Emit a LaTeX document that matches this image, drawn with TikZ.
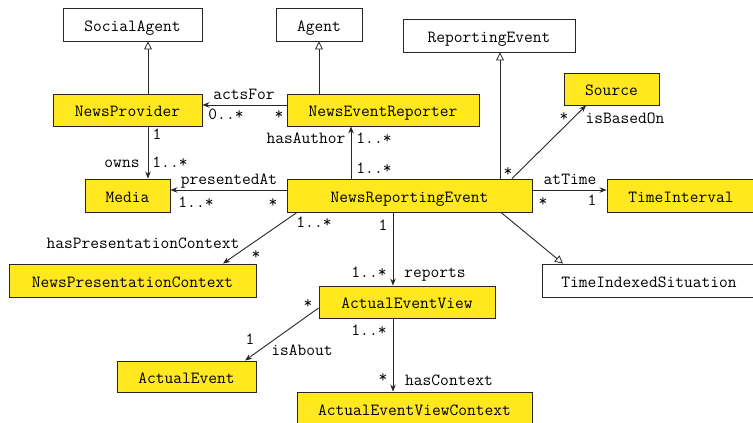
\documentclass[tikz,border=0pt]{standalone}
\usepackage{fontspec}
\usetikzlibrary{arrows.meta}
\definecolor{umlyellow}{RGB}{255,233,30}
\newcommand{\umlfont}{\ttfamily\fontsize{17}{20}\selectfont}
\begin{document}
\begin{tikzpicture}[x=1pt,y=-1pt,
  box/.style={draw=black!85,line width=0.9pt,inner sep=0pt,minimum height=33pt,text height=14pt,text depth=1pt,font=\umlfont},
  cls/.style={box,fill=umlyellow},
  ext/.style={box,fill=white},
  lbl/.style={font=\umlfont,anchor=base,inner sep=0pt},
  assoc/.style={draw=black!85,line width=0.9pt,-{Stealth[length=7pt,width=5.5pt]}},
  gen/.style={draw=black!85,line width=0.9pt,-{Triangle[open,length=8pt,width=8pt,line width=0.8pt]}}]
\useasboundingbox (0,0) rectangle (753,423);
% nodes
\node[ext,minimum width=139pt] (SA) at (132.5,24.5) {SocialAgent};
\node[ext,minimum width=86pt] (AG) at (319,24.5) {Agent};
\node[ext,minimum width=172pt] (RE) at (489,35.5) {ReportingEvent};
\node[cls,minimum width=149pt,minimum height=32pt] (NP) at (127.5,110) {NewsProvider};
\node[cls,minimum width=192pt,minimum height=32pt] (NER) at (383,110) {NewsEventReporter};
\node[cls,minimum width=95pt,minimum height=32pt] (SRC) at (611.5,89) {Source};
\node[cls,minimum width=85pt] (MED) at (127.5,195.5) {Media};
\node[cls,minimum width=245pt] (NRE) at (409.5,195.5) {NewsReportingEvent};
\node[cls,minimum width=148pt] (TI) at (681,195.5) {TimeInterval};
\node[cls,minimum width=247pt] (NPC) at (132.5,280.5) {NewsPresentationContext};
\node[ext,minimum width=214pt] (TIS) at (649,280.5) {TimeIndexedSituation};
\node[cls,minimum width=176pt,minimum height=32pt] (AEV) at (407,302) {ActualEventView};
\node[cls,minimum width=139pt,minimum height=31pt] (AE) at (186.5,376.5) {ActualEvent};
\node[cls,minimum width=235pt] (AEVC) at (414.5,408.5) {ActualEventViewContext};
% helper coordinates
\coordinate (x148) at (148,0);
\coordinate (x319) at (319,0);
\coordinate (x351) at (351,0);
\coordinate (x500) at (500,0);
\coordinate (x512) at (512,0);
\coordinate (x586) at (586,0);
\coordinate (x297) at (297,0);
\coordinate (x223) at (223,0);
\coordinate (x393) at (393,0);
\coordinate (x501) at (501,0);
\coordinate (x563) at (563,0);
\coordinate (x245) at (245,0);
\coordinate (y105) at (0,105);
\coordinate (y190) at (0,190);
\coordinate (y308) at (0,308);
% generalizations
\draw[gen] (NP.north -| x148) -- (SA.south -| x148);
\draw[gen] (NER.north -| x319) -- (AG.south -| x319);
\draw[gen] (NRE.north -| x500) -- (RE.south -| x500);
\draw[gen] (NRE.south -| x501) -- (TIS.north -| x563);
% associations
\draw[assoc] (NER.west |- y105) -- (NP.east |- y105);
\draw[assoc] (NP.south -| x148) -- (MED.north -| x148);
\draw[assoc] (NRE.west |- y190) -- (MED.east |- y190);
\draw[assoc] (NRE.north -| x351) -- (NER.south -| x351);
\draw[assoc] (NRE.north -| x512) -- (SRC.south -| x586);
\draw[assoc] (NRE.east |- y190) -- (TI.west |- y190);
\draw[assoc] (NRE.south -| x297) -- (NPC.north -| x223);
\draw[assoc] (NRE.south -| x393) -- (AEV.north -| x393);
\draw[assoc] (AEV.west |- y308) -- (AE.north -| x245);
\draw[assoc] (AEV.south -| x393) -- (AEVC.north -| x393);
% labels
\node[lbl] (l1) at (244,99) {actsFor};
\node[lbl] (l2) at (226,119) {0..*};
\node[lbl] (l3) at (279,119) {*};
\node[lbl] (l4) at (157,139) {1};
\node[lbl] (l5) at (122,167) {owns};
\node[lbl] (l6) at (170,167) {1..*};
\node[lbl] (l7) at (229,184) {presentedAt};
\node[lbl] (l8) at (196,207) {1..*};
\node[lbl] (l9) at (273,207) {*};
\node[lbl] (l10) at (306,143) {hasAuthor};
\node[lbl] (l11) at (374,143) {1..*};
\node[lbl] (l12) at (374,173) {1..*};
\node[lbl] (l13) at (508,176) {*};
\node[lbl] (l14) at (564,121) {*};
\node[lbl] (l15) at (625,123) {isBasedOn};
\node[lbl] (l16) at (570,184) {atTime};
\node[lbl] (l17) at (543,206) {*};
\node[lbl] (l18) at (592,205) {1};
\node[lbl] (l19) at (314,227) {1..*};
\node[lbl] (l20) at (143,248) {hasPresentationContext};
\node[lbl] (l21) at (256,259) {*};
\node[lbl] (l22) at (383,230) {1};
\node[lbl] (l23) at (369,277) {1..*};
\node[lbl] (l24) at (435,277) {reports};
\node[lbl] (l25) at (308,308) {*};
\node[lbl] (l26) at (250,344) {1};
\node[lbl] (l27) at (302,355) {isAbout};
\node[lbl] (l28) at (369,335) {1..*};
\node[lbl] (l29) at (383,382) {*};
\node[lbl] (l30) at (449,385) {hasContext};
\end{tikzpicture}
\end{document}
